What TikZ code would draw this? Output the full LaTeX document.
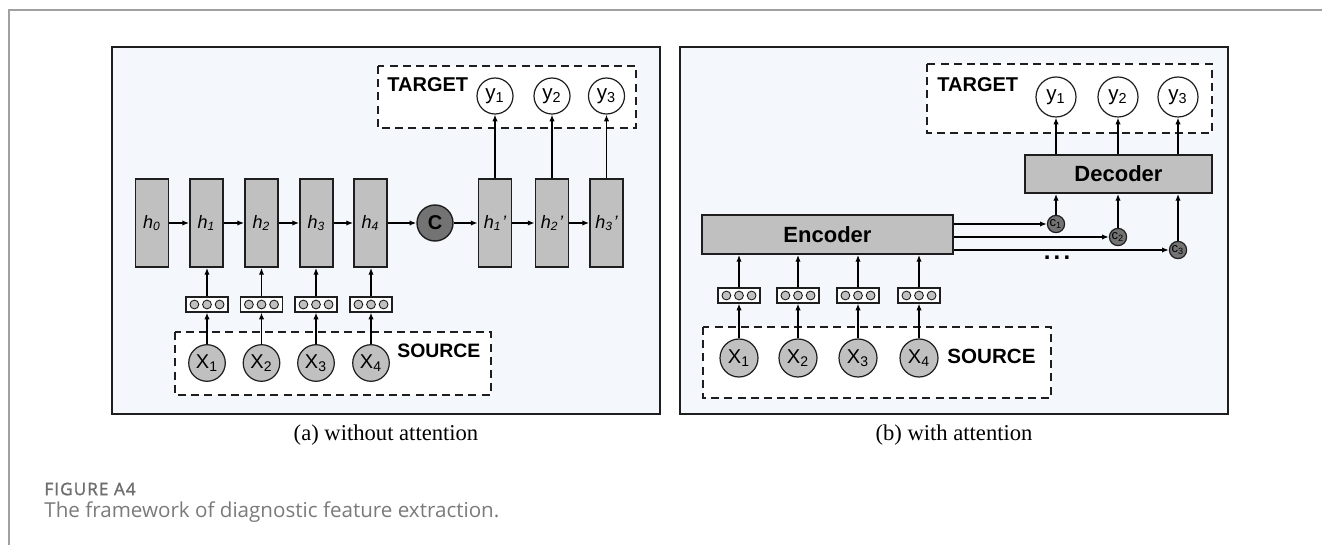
\documentclass[tikz,border=0pt]{standalone}
\usepackage{fontspec}
\setmainfont{Liberation Sans}
\newfontfamily\capfont{Liberation Serif}
\newfontfamily\notefont{Open Sans}
\newfontfamily\notehead[FakeBold=1.5,LetterSpace=6]{Open Sans}
\usetikzlibrary{arrows.meta}

\definecolor{panelfill}{HTML}{F4F8FC}
\definecolor{boxgray}{HTML}{C0C0C0}
\definecolor{ctxgray}{HTML}{737373}
\definecolor{framegray}{HTML}{A0A0A0}
\definecolor{notegray}{HTML}{7A7A7A}
\definecolor{headgray}{HTML}{6E6E6E}
\definecolor{edge}{HTML}{1E1E1E}

\begin{document}
\begin{tikzpicture}[x=0.5pt,y=-0.5pt,
  panel/.style={draw=edge, line width=1pt, fill=panelfill},
  dashbox/.style={draw=edge, line width=0.9pt, dash pattern=on 4pt off 2.6pt, fill=white},
  hbox/.style={draw=edge, line width=0.9pt, fill=boxgray, minimum width=16.5pt,
    minimum height=44pt, inner sep=0pt, font=\fontsize{9}{10}\selectfont\itshape},
  bigbox/.style={draw=edge, line width=0.9pt, fill=boxgray, inner sep=0pt,
    font=\fontsize{11}{12}\selectfont\bfseries},
  embed/.style={draw=edge, line width=0.6pt, fill=white, minimum width=21pt,
    minimum height=7.5pt, inner sep=0pt,
    path picture={\foreach \dx in {-6.3,0,6.3}
      \draw[line width=0.45pt, fill=boxgray] ([xshift=\dx pt]path picture bounding box.center) circle (2.2pt);}},
  xin/.style={circle, draw=edge, line width=0.6pt, fill=boxgray, minimum size=18.3pt,
    inner sep=0pt, font=\fontsize{10}{11}\selectfont},
  yout/.style={circle, draw=edge, line width=0.6pt, fill=white, minimum size=18pt,
    inner sep=0pt, font=\fontsize{10.3}{11}\selectfont},
  ctx/.style={circle, draw=edge, line width=0.7pt, fill=ctxgray, minimum size=18pt,
    inner sep=0pt, font=\fontsize{10}{10}\selectfont\bfseries},
  cnode/.style={circle, draw=edge, line width=0.6pt, fill=ctxgray, minimum size=8.6pt,
    inner sep=0pt, font=\fontsize{6.5}{7}\selectfont},
  tag/.style={anchor=west, inner sep=0pt, font=\fontsize{10}{11}\selectfont\bfseries},
  arr/.style={-{Latex[length=3.4pt,width=2.7pt]}, line width=0.7pt, draw=black},
  caption/.style={inner sep=0pt, font=\capfont\fontsize{11.3}{13}\selectfont}
]
\useasboundingbox (0,0) rectangle (1322,545);

% page frame
\draw[framegray, line width=0.6pt] (9,545) -- (9,10) -- (1322,10);

% ---------------- panel (a): without attention ----------------
\draw[panel] (112,47) rectangle (660,414);
\draw[dashbox] (378,66) rectangle (636,128);
\draw[dashbox] (175,332) rectangle (491,395);
\node[tag] (tgtA) at (387,85) {TARGET};
\node[tag, font=\fontsize{9.7}{11}\selectfont\bfseries] (srcA) at (397,351) {SOURCE};

\node[hbox] (h0) at (152,223) {h\textsubscript{0}};
\node[hbox] (h1) at (206.5,223) {h\textsubscript{1}};
\node[hbox] (h2) at (261.5,223) {h\textsubscript{2}};
\node[hbox] (h3) at (316.5,223) {h\textsubscript{3}};
\node[hbox] (h4) at (370.5,223) {h\textsubscript{4}};
\node[ctx] (C) at (435,223) {C};
\node[hbox] (g1) at (495,223) {h\textsubscript{1}\kern0.3pt'};
\node[hbox] (g2) at (552,223) {h\textsubscript{2}\kern0.3pt'};
\node[hbox] (g3) at (606.5,223) {h\textsubscript{3}\kern0.3pt'};

\node[yout] (ya1) at (495,96) {y\textsubscript{1}};
\node[yout] (ya2) at (552,96) {y\textsubscript{2}};
\node[yout] (ya3) at (606.5,96) {y\textsubscript{3}};

\foreach \i/\x in {1/207,2/261.5,3/316,4/371}{
  \node[embed] (ea\i) at (\x,304.5) {};
  \node[xin] (xa\i) at (\x,363) {X\textsubscript{\i}};
}

\draw[arr] (h0) -- (h1);
\draw[arr] (h1) -- (h2);
\draw[arr] (h2) -- (h3);
\draw[arr] (h3) -- (h4);
\draw[arr] (h4) -- (C);
\draw[arr] (C) -- (g1);
\draw[arr] (g1) -- (g2);
\draw[arr] (g2) -- (g3);
\foreach \i in {1,2,3,4}{
  \draw[arr] (ea\i) -- (ea\i |- h\i.south);
  \draw[arr] (xa\i) -- (ea\i);
}
\foreach \i in {1,2,3}
  \draw[arr] (g\i) -- (ya\i);

\node[caption] (capA) at (386,435) {(a) without attention};

% ---------------- panel (b): with attention ----------------
\draw[panel] (680,47) rectangle (1228,414);
\draw[dashbox] (927,64) rectangle (1212,133);
\draw[dashbox] (703,327) rectangle (1051,398);
\node[tag] (tgtB) at (937,85) {TARGET};
\node[tag, font=\fontsize{10.3}{11}\selectfont\bfseries] (srcB) at (947,356) {SOURCE};

\node[bigbox, minimum width=125.5pt, minimum height=19.5pt] (enc) at (827.5,234.5) {Encoder};
\node[bigbox, minimum width=93.5pt, minimum height=19pt] (dec) at (1118.5,174) {Decoder};

\node[yout, minimum size=20pt] (yb1) at (1056,97) {y\textsubscript{1}};
\node[yout, minimum size=20pt] (yb2) at (1118,97) {y\textsubscript{2}};
\node[yout, minimum size=20pt] (yb3) at (1178,97) {y\textsubscript{3}};

\node[cnode] (c1) at (1056,224) {c\textsubscript{1}};
\node[cnode] (c2) at (1118,237) {c\textsubscript{2}};
\node[cnode] (c3) at (1178,250) {c\textsubscript{3}};
\node[inner sep=0pt, font=\fontsize{12}{12}\selectfont\bfseries] (more) at (1057,258) {.\hspace{1.6pt}.\hspace{1.6pt}.};

\foreach \i/\x in {1/739,2/798,3/858,4/919}{
  \node[embed] (eb\i) at (\x,295.5) {};
  \node[xin, minimum size=19pt] (xb\i) at (\x,358) {X\textsubscript{\i}};
  \draw[arr] (eb\i) -- (eb\i |- enc.south);
  \draw[arr] (xb\i) -- (eb\i);
}
\foreach \i in {1,2,3}{
  \draw[arr] (enc.east |- c\i) -- (c\i);
  \draw[arr] (c\i) -- (c\i |- dec.south);
  \draw[arr] (dec.north -| yb\i) -- (yb\i);
}

\node[caption] (capB) at (954,435) {(b) with attention};

% ---------------- figure note ----------------
\node[anchor=west, inner sep=0pt, text=headgray, font=\notehead\fontsize{8.6}{9}\selectfont] (fig) at (44,489) {FIGURE A4};
\node[anchor=west, inner sep=0pt, text=notegray, font=\notefont\fontsize{10.3}{11}\selectfont] (note) at (44,512) {The framework of diagnostic feature extraction.};
\end{tikzpicture}
\end{document}
